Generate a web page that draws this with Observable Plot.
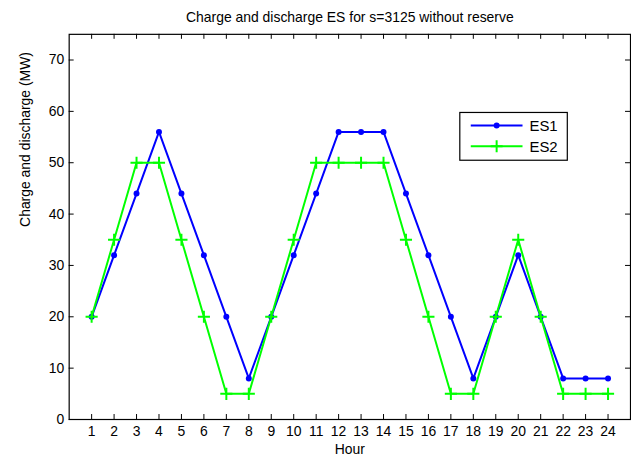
<!DOCTYPE html>
<html>
<head>
<meta charset="utf-8">
<script src="https://cdn.jsdelivr.net/npm/d3@7"></script>
<script src="https://cdn.jsdelivr.net/npm/@observablehq/plot@0.6"></script>
<style>
  html, body { margin: 0; padding: 0; background: #fff; overflow: hidden; }
  #chart { width: 631px; height: 461px; overflow: hidden; }
  svg { font-family: "Liberation Sans", Arial, Helvetica, sans-serif; }
</style>
</head>
<body>
<div id="chart"></div>
<script>
const hours = [1,2,3,4,5,6,7,8,9,10,11,12,13,14,15,16,17,18,19,20,21,22,23,24];
const es1 = [20,32,44,56,44,32,20,8,20,32,44,56,56,56,44,32,20,8,20,32,20,8,8,8];
const es2 = [20,35,50,50,35,20,5,5,20,35,50,50,50,50,35,20,5,5,20,35,20,5,5,5];
const yTicks = [0,10,20,30,40,50,60,70];
const seriesNames = ["ES1", "ES2"];
const titleText = "Charge and discharge ES for s=3125 without reserve";
const xLabel = "Hour";
const yLabel = "Charge and discharge (MW)";

const d1 = hours.map((h, i) => ({hour: h, v: es1[i]}));
const d2 = hours.map((h, i) => ({hour: h, v: es2[i]}));

const W = 634, H = 461;
const mL = 69, mT = 34, mB = 40, mR = 1;
const innerH = H - mT - mB;
const tickLen = 5;

const chart = Plot.plot({
  width: W,
  height: H,
  marginLeft: mL,
  marginTop: mT,
  marginBottom: mB,
  marginRight: mR,
  style: {fontFamily: '"Liberation Sans", Arial, sans-serif', fontSize: "14px", color: "#000", background: "#fff"},
  x: {domain: [0, 25], ticks: hours, tickSize: 0, tickPadding: 7, label: null, tickFormat: d => String(d)},
  y: {domain: [0, 75], ticks: yTicks, tickSize: 0, tickPadding: 5, label: null},
  marks: [
    Plot.frame({stroke: "#000", strokeWidth: 1.2}),
    Plot.tickX(hours, {x: d => d, insetTop: innerH - tickLen, stroke: "#000", strokeWidth: 1}),
    Plot.tickX(hours, {x: d => d, insetBottom: innerH - tickLen, stroke: "#000", strokeWidth: 1}),
    Plot.tickY(yTicks, {y: d => d, insetRight: (W - mL - mR) - tickLen, stroke: "#000", strokeWidth: 1}),
    Plot.tickY(yTicks, {y: d => d, insetLeft: (W - mL - mR) - tickLen, stroke: "#000", strokeWidth: 1}),
    Plot.line(d1, {x: "hour", y: "v", stroke: "#0000ff", strokeWidth: 2}),
    Plot.dot(d1, {x: "hour", y: "v", r: 3, fill: "#0000ff", stroke: "none"}),
    Plot.line(d2, {x: "hour", y: "v", stroke: "#00ff00", strokeWidth: 2}),
    Plot.dot(d2, {x: "hour", y: "v", symbol: "plus", r: 4, stroke: "#00ff00", strokeWidth: 2}),
    Plot.text([titleText], {frameAnchor: "top", dy: -22, text: d => d, fontSize: 14, fill: "#000"}),
    Plot.text([xLabel], {frameAnchor: "bottom", lineAnchor: "middle", dy: 30, text: d => d, fontSize: 14, fill: "#000"}),
    Plot.text([yLabel], {frameAnchor: "left", dx: -44, rotate: -90, text: d => d, fontSize: 14, fill: "#000"})
  ]
});

const svg = d3.select(chart);
const lg = svg.append("g").attr("transform", "translate(462,113)");
lg.append("rect").attr("x", 0).attr("y", 0).attr("width", 108).attr("height", 48)
  .attr("fill", "#fff").attr("stroke", "#000").attr("stroke-width", 1.2);
const colors = ["#0000ff", "#00ff00"];
seriesNames.forEach((name, i) => {
  const y = 13 + i * 21;
  lg.append("line").attr("x1", 11).attr("x2", 63).attr("y1", y).attr("y2", y)
    .attr("stroke", colors[i]).attr("stroke-width", 2);
  if (i === 0) {
    lg.append("circle").attr("cx", 37).attr("cy", y).attr("r", 3).attr("fill", colors[i]);
  } else {
    lg.append("path").attr("d", `M31,${y}H43M37,${y-6}V${y+6}`).attr("stroke", colors[i]).attr("stroke-width", 2);
  }
  lg.append("text").attr("x", 70).attr("y", y).attr("dy", "0.35em")
    .attr("text-anchor", "start")
    .attr("font-size", 15).attr("fill", "#000").text(name);
});

document.getElementById("chart").appendChild(chart);
</script>
</body>
</html>
